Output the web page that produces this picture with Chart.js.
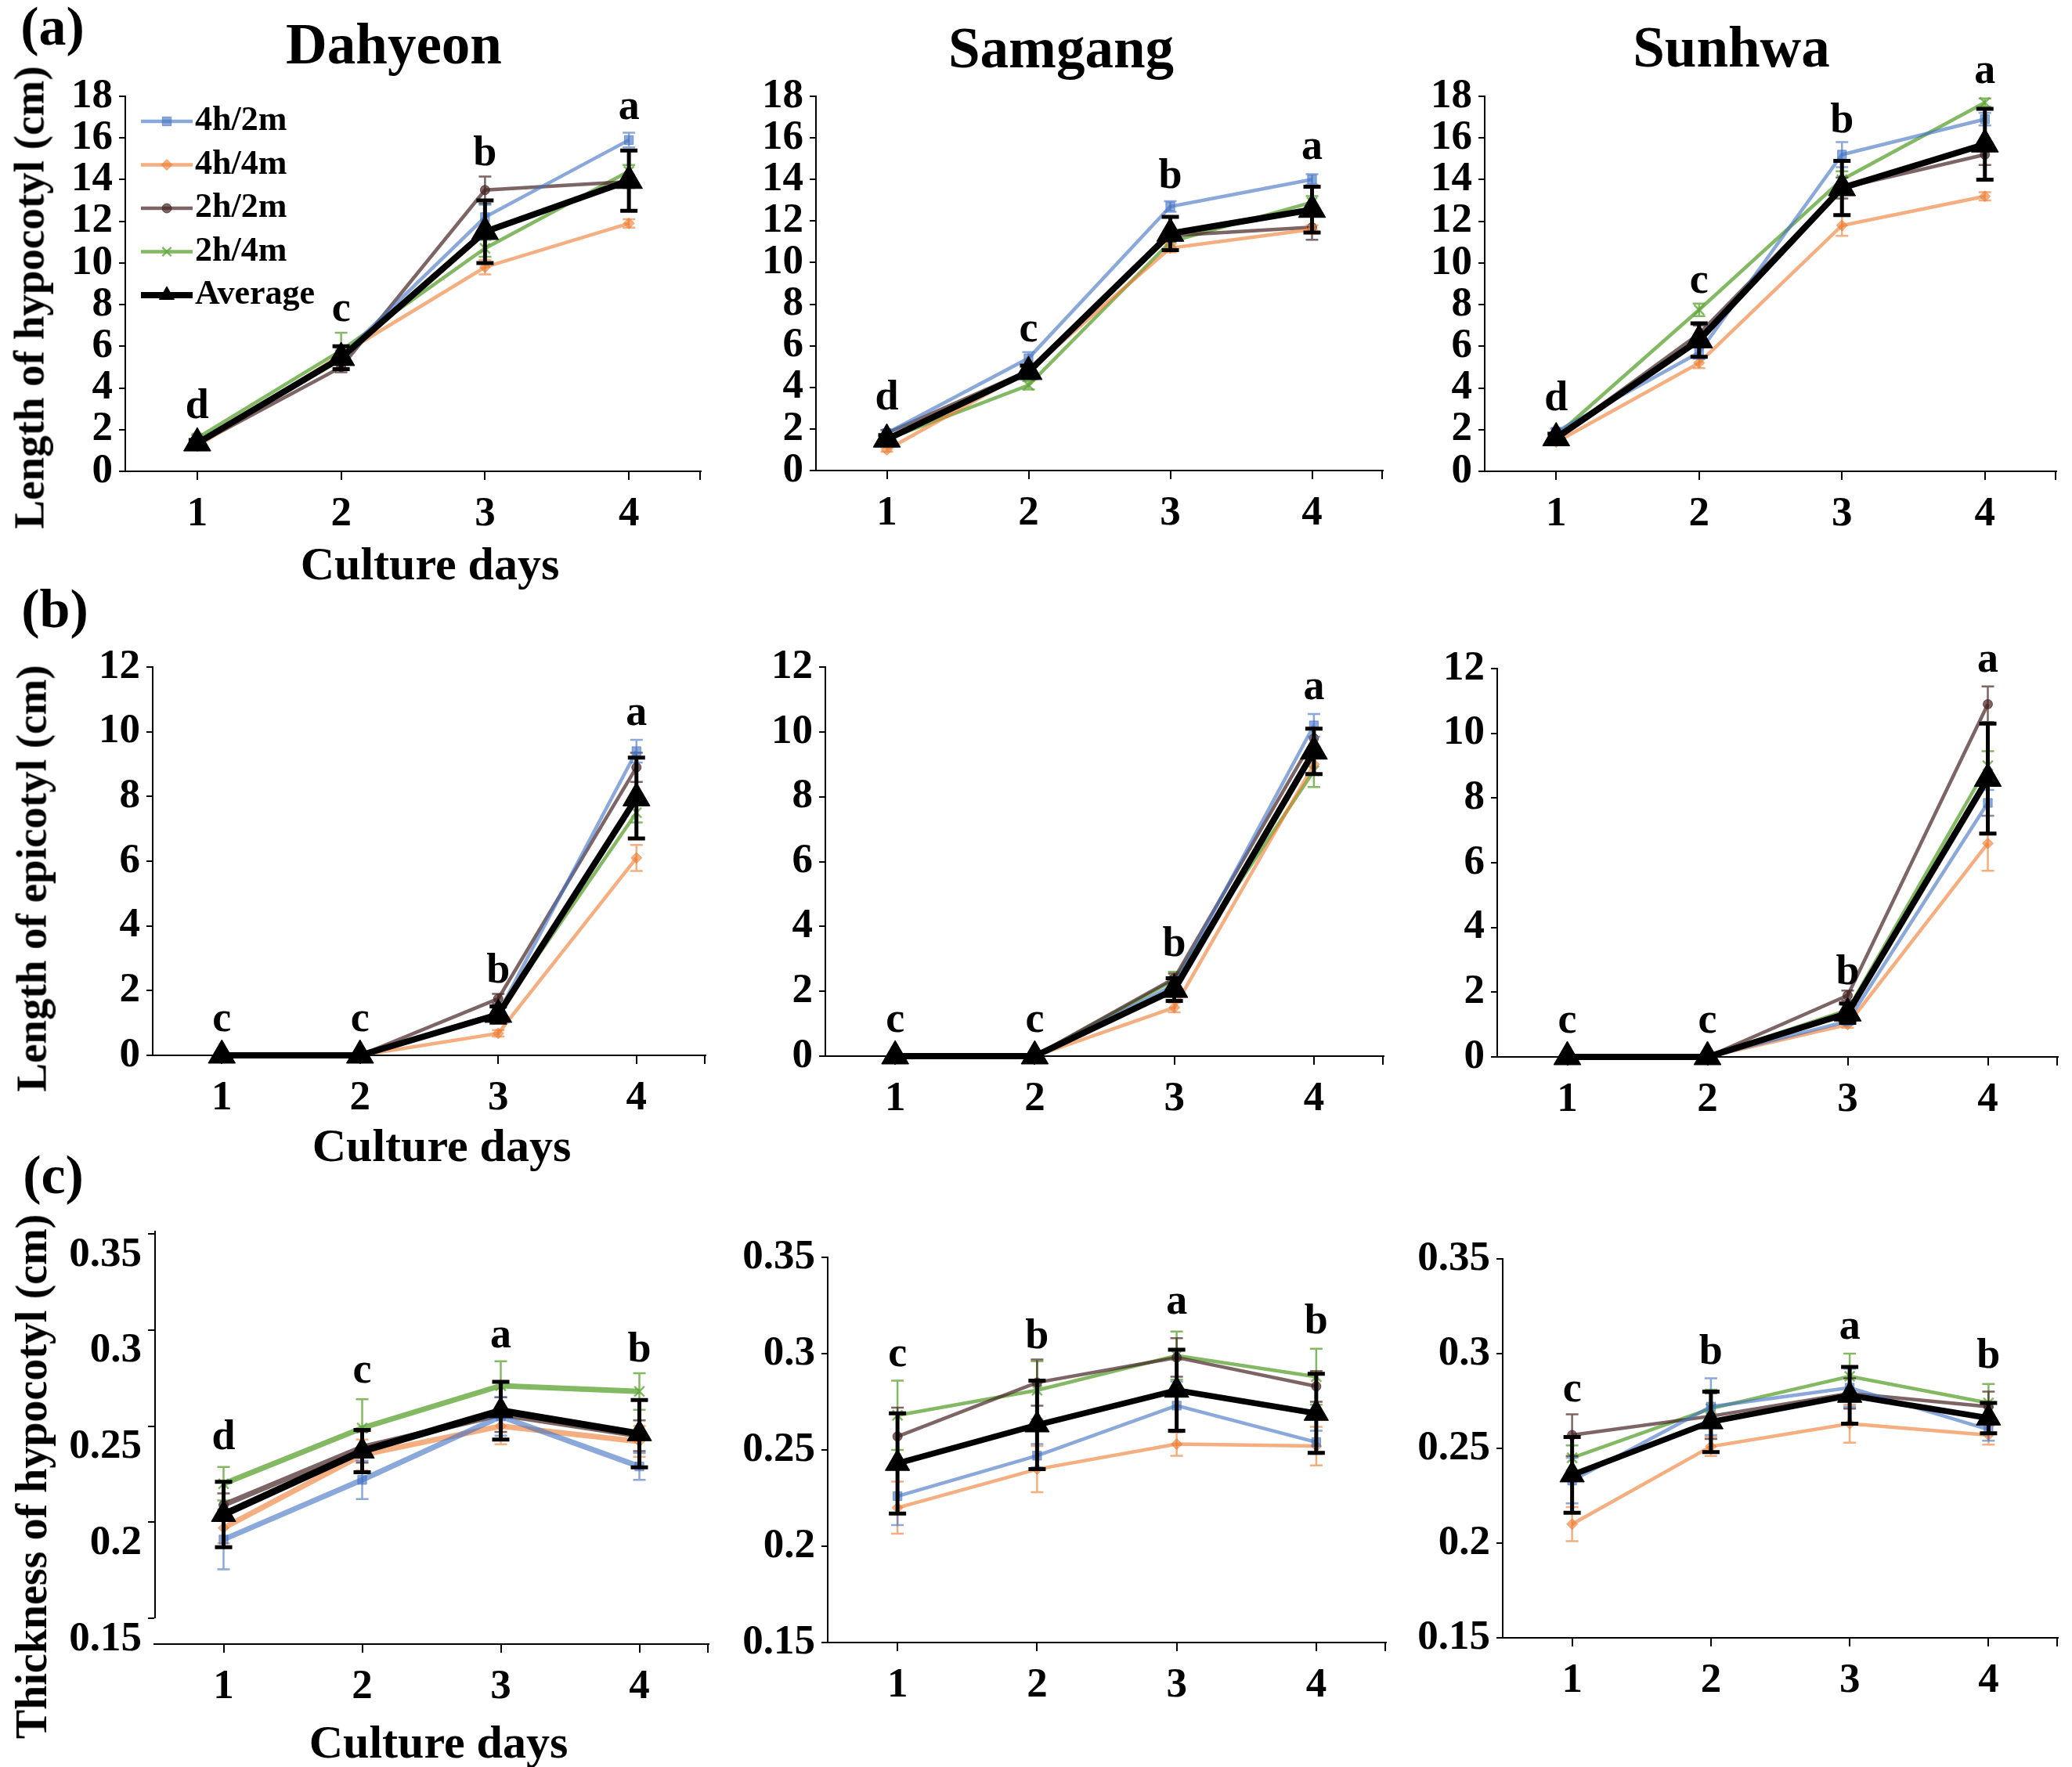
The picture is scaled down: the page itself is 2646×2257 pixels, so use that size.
<!DOCTYPE html>
<html>
<head>
<meta charset="utf-8">
<script src="https://cdn.jsdelivr.net/npm/chart.js@4.4.1/dist/chart.umd.min.js"></script>
<style>
html, body { margin: 0; padding: 0; background: #fff; overflow: hidden; }
body { width: 2646px; height: 2257px; position: relative; font-family: "Liberation Serif", serif; font-weight: bold; color: #000; }
canvas { position: absolute; }
.t { position: absolute; white-space: nowrap; }
</style>
</head>
<body>
<script>
const days = ['1', '2', '3', '4'];
const seriesNames = ['4h/2m', '4h/4m', '2h/2m', '2h/4m', 'Average'];
const seriesColors = ['rgba(68,114,196,0.62)', 'rgba(237,125,49,0.62)', 'rgba(70,35,35,0.7)', 'rgba(100,168,60,0.8)', '#000'];
const seriesMarkers = ['rect', 'rectRot', 'circle', 'crossRot', 'triangle'];
const markerRadius = [8, 7, 6, 9];

const lengthTicks = [0, 2, 4, 6, 8, 10, 12, 14, 16, 18];
const epicotylTicks = [0, 2, 4, 6, 8, 10, 12];
const thicknessTicks = [0.15, 0.2, 0.25, 0.3, 0.35];

// (a) length of hypocotyl, rows = 4h/2m, 4h/4m, 2h/2m, 2h/4m, Average
const hypLenDahyeon = [[1.4, 5.5, 12.2, 15.9], [1.2, 5.6, 9.8, 11.9], [1.3, 5.0, 13.5, 13.9], [1.6, 5.8, 10.7, 14.4], [1.35, 5.45, 11.5, 13.95]];
const hypLenDahyeonErr = [[0.15, 0.3, 0.6, 0.35], [0.1, 0.3, 0.35, 0.2], [0.1, 0.25, 0.65, 0.3], [0.15, 0.85, 0.4, 0.3], [0.15, 0.55, 1.5, 1.45]];
const hypLenSamgang = [[1.8, 5.4, 12.7, 14.0], [1.0, 4.8, 10.7, 11.6], [1.8, 4.8, 11.3, 11.7], [1.5, 4.1, 11.0, 12.9], [1.5, 4.75, 11.4, 12.55]];
const hypLenSamgangErr = [[0.15, 0.3, 0.25, 0.25], [0.1, 0.2, 0.2, 0.2], [0.15, 0.2, 0.3, 0.6], [0.1, 0.2, 0.3, 0.3], [0.2, 0.3, 0.8, 1.1]];
const hypLenSunhwa = [[1.9, 5.7, 15.2, 16.9], [1.4, 5.2, 11.8, 13.2], [1.6, 6.6, 13.6, 15.2], [1.7, 7.75, 14.0, 17.7], [1.6, 6.3, 13.6, 15.7]];
const hypLenSunhwaErr = [[0.15, 0.3, 0.6, 0.3], [0.1, 0.25, 0.5, 0.2], [0.1, 0.4, 0.5, 0.5], [0.1, 0.3, 0.4, 0.2], [0.2, 0.8, 1.3, 1.7]];

// (b) length of epicotyl
const epiLenDahyeon = [[0, 0, 1.3, 9.4], [0, 0, 0.68, 6.1], [0, 0, 1.75, 8.9], [0, 0, 1.3, 7.5], [0, 0, 1.26, 7.95]];
const epiLenDahyeonErr = [[0, 0, 0.1, 0.35], [0, 0, 0.1, 0.4], [0, 0, 0.15, 0.45], [0, 0, 0.1, 0.3], [0, 0, 0.25, 1.25]];
const epiLenSamgang = [[0, 0, 2.2, 10.2], [0, 0, 1.5, 9.0], [0, 0, 2.4, 9.8], [0, 0, 2.35, 8.8], [0, 0, 2.05, 9.4]];
const epiLenSamgangErr = [[0, 0, 0.15, 0.35], [0, 0, 0.15, 0.3], [0, 0, 0.15, 0.3], [0, 0, 0.25, 0.5], [0, 0, 0.35, 0.7]];
const epiLenSunhwa = [[0, 0, 1.1, 7.85], [0, 0, 1.0, 6.6], [0, 0, 1.9, 10.9], [0, 0, 1.45, 9.0], [0, 0, 1.35, 8.6]];
const epiLenSunhwaErr = [[0, 0, 0.1, 0.4], [0, 0, 0.1, 0.85], [0, 0, 0.15, 0.55], [0, 0, 0.15, 0.45], [0, 0, 0.3, 1.7]];

// (c) thickness of hypocotyl
const hypThkDahyeon = [[0.191, 0.222, 0.255, 0.229], [0.197, 0.235, 0.250, 0.242], [0.209, 0.239, 0.256, 0.245], [0.220, 0.249, 0.271, 0.268], [0.204, 0.237, 0.258, 0.246]];
const hypThkDahyeonErr = [[0.0155, 0.01, 0.01, 0.007], [0.008, 0.008, 0.0095, 0.008], [0.006, 0.008, 0.009, 0.008], [0.0087, 0.015, 0.0127, 0.0095], [0.017, 0.011, 0.015, 0.0175]];
const hypThkSamgang = [[0.226, 0.247, 0.273, 0.254], [0.220, 0.240, 0.253, 0.252], [0.257, 0.285, 0.298, 0.283], [0.268, 0.281, 0.299, 0.288], [0.243, 0.263, 0.281, 0.269]];
const hypThkSamgangErr = [[0.015, 0.006, 0.0125, 0.006], [0.0135, 0.012, 0.006, 0.01], [0.015, 0.012, 0.01, 0.008], [0.018, 0.015, 0.0125, 0.0145], [0.026, 0.023, 0.021, 0.0205]];
const hypThkSunhwa = [[0.233, 0.272, 0.282, 0.260], [0.210, 0.251, 0.263, 0.257], [0.257, 0.267, 0.279, 0.272], [0.245, 0.271, 0.288, 0.274], [0.236, 0.264, 0.278, 0.266]];
const hypThkSunhwaErr = [[0.012, 0.015, 0.01, 0.006], [0.009, 0.005, 0.01, 0.005], [0.011, 0.012, 0.008, 0.008], [0.0065, 0.01, 0.012, 0.01], [0.02, 0.016, 0.015, 0.008]];

// significance letters and the value they sit on
const lettersA = ['d', 'c', 'b', 'a'];
const lettersB = ['c', 'c', 'b', 'a'];
const lettersC1 = ['d', 'c', 'a', 'b'];
const lettersC23 = ['c', 'b', 'a', 'b'];
const letterYa1 = [2.55, 7.2, 14.7, 16.9];
const letterYa2 = [2.92, 6.2, 13.6, 15.0];
const letterYa3 = [2.94, 8.57, 16.28, 18.64];
const letterYb1 = [0.74, 0.74, 2.26, 10.2];
const letterYb2 = [0.76, 0.76, 3.09, 11.0];
const letterYb3 = [0.74, 0.74, 2.26, 11.9];
const letterYc1 = [0.238, 0.2725, 0.291, 0.2835];
const letterYc2 = [0.2936, 0.3027, 0.3208, 0.3107];
const letterYc3 = [0.275, 0.2948, 0.3077, 0.2924];

const FONT = 'Liberation Serif';

const errorBars = {
  id: 'errorBars',
  afterDatasetDraw(chart, args, opts) {
    if (!opts.errors) return;
    const i = args.index;
    const e = opts.errors[i];
    const ds = chart.data.datasets[i];
    const ctx = chart.ctx;
    const ys = chart.scales.y;
    const avg = i === 4;
    const cap = avg ? 11 : 8;
    ctx.save();
    ctx.strokeStyle = ds.borderColor;
    ctx.lineWidth = avg ? 5 : 2.5;
    args.meta.data.forEach((pt, j) => {
      if (!e[j]) return;
      const v = ds.data[j];
      const y1 = ys.getPixelForValue(v - e[j]);
      const y2 = ys.getPixelForValue(v + e[j]);
      ctx.beginPath();
      ctx.moveTo(pt.x, y1); ctx.lineTo(pt.x, y2);
      ctx.moveTo(pt.x - cap, y1); ctx.lineTo(pt.x + cap, y1);
      ctx.moveTo(pt.x - cap, y2); ctx.lineTo(pt.x + cap, y2);
      ctx.stroke();
    });
    ctx.restore();
  }
};

const letterMarks = {
  id: 'letterMarks',
  afterDatasetsDraw(chart, args, opts) {
    if (!opts.letters) return;
    const ctx = chart.ctx;
    ctx.save();
    ctx.font = 'bold 54px "' + FONT + '"';
    ctx.fillStyle = '#000';
    ctx.textAlign = 'center';
    ctx.textBaseline = 'alphabetic';
    opts.letters.forEach((s, j) => {
      ctx.fillText(s, chart.scales.x.getPixelForValue(j), chart.scales.y.getPixelForValue(opts.heights[j]));
    });
    ctx.restore();
  }
};

const insideLegend = {
  id: 'insideLegend',
  afterDraw(chart, args, opts) {
    if (!opts.show) return;
    const ctx = chart.ctx, a = chart.chartArea;
    const legendRadius = [8, 7, 6, 8, 11];
    ctx.save();
    ctx.font = 'bold 44px "' + FONT + '"';
    ctx.textBaseline = 'middle';
    ctx.textAlign = 'left';
    chart.data.datasets.forEach((ds, i) => {
      const y = a.top + opts.top + i * opts.gap;
      const x0 = a.left + opts.left, x1 = x0 + opts.len;
      ctx.strokeStyle = ds.borderColor;
      ctx.fillStyle = ds.backgroundColor;
      ctx.lineWidth = i === 4 ? 8 : 4.5;
      ctx.beginPath(); ctx.moveTo(x0, y); ctx.lineTo(x1, y); ctx.stroke();
      if (Chart.helpers && Chart.helpers.drawPoint) {
        ctx.lineWidth = i === 3 ? 2.5 : 1;
        Chart.helpers.drawPoint(ctx, {pointStyle: ds.pointStyle, radius: legendRadius[i], rotation: 0, borderWidth: ctx.lineWidth}, (x0 + x1) / 2, y);
      }
      ctx.fillStyle = '#000';
      ctx.fillText(ds.label, x1 + 3, y);
    });
    ctx.restore();
  }
};

const axisExtras = {
  id: 'axisExtras',
  afterDraw(chart, args, opts) {
    const ctx = chart.ctx, a = chart.chartArea;
    ctx.save();
    ctx.strokeStyle = '#000';
    ctx.lineWidth = 2;
    ctx.beginPath();
    ctx.moveTo(a.right - 1, a.bottom);
    ctx.lineTo(a.right - 1, a.bottom + 11);
    if (opts.yFrom !== undefined) {
      const ys = chart.scales.y;
      ctx.moveTo(a.left + 1, ys.getPixelForValue(opts.yFrom));
      ctx.lineTo(a.left + 1, ys.getPixelForValue(opts.yTo));
    }
    ctx.stroke();
    ctx.restore();
  }
};

Chart.register(errorBars, letterMarks, insideLegend, axisExtras);

function makePanel(p) {
  const W = p.R - p.L + 158, H = p.B - p.T + 180;
  const cv = document.createElement('canvas');
  cv.width = W; cv.height = H;
  cv.style.left = (p.L - 150) + 'px';
  cv.style.top = (p.T - 100) + 'px';
  cv.style.width = W + 'px';
  cv.style.height = H + 'px';
  document.body.appendChild(cv);

  const datasets = p.values.map((vals, i) => ({
    label: seriesNames[i],
    data: vals,
    borderColor: seriesColors[i],
    backgroundColor: seriesColors[i],
    borderWidth: i === 4 ? p.avgWidth : p.lineWidth,
    pointStyle: seriesMarkers[i],
    pointRadius: i === 4 ? p.triRadius : markerRadius[i],
    pointBorderWidth: i === 3 ? 2.5 : 1,
    tension: 0,
    clip: false,
    order: i === 4 ? 0 : i + 1
  }));

  const tickFont = {family: FONT, weight: 'bold', size: 53};

  new Chart(cv, {
    type: 'line',
    data: {labels: days, datasets: datasets},
    options: {
      responsive: false,
      animation: false,
      devicePixelRatio: 1,
      events: [],
      layout: {padding: {left: 0, top: 100, right: 8, bottom: 0}},
      plugins: {
        legend: {display: false},
        tooltip: {enabled: false},
        errorBars: {errors: p.errors},
        letterMarks: {letters: p.letters, heights: p.letterY},
        insideLegend: {show: !!p.legend, top: 32, left: 20, len: 66, gap: 55.5},
        axisExtras: {yFrom: p.yFrom, yTo: p.max}
      },
      scales: {
        x: {
          type: 'category',
          offset: true,
          grid: {display: true, drawOnChartArea: false, drawTicks: true, tickLength: 11, color: '#000', lineWidth: 2, offset: false},
          border: {display: true, color: '#000', width: 2},
          ticks: {color: '#000', font: tickFont, padding: 13, maxRotation: 0, autoSkip: false},
          afterFit(s) { s.height = 80; }
        },
        y: {
          type: 'linear',
          min: p.min,
          max: p.max,
          afterBuildTicks(s) { s.ticks = p.ticks.map(v => ({value: v})); },
          grid: {display: true, drawOnChartArea: false, drawTicks: true, tickLength: 8, color: '#000', lineWidth: 2},
          border: {display: p.yFrom === undefined, color: '#000', width: 2},
          ticks: {color: '#000', font: tickFont, padding: 8, autoSkip: false, labelOffset: p.labelOffset || 0, callback: v => String(+v.toFixed(2))},
          afterFit(s) { s.width = 150; }
        }
      }
    }
  });
}

const rowAB = {lineWidth: 4.5, avgWidth: 8, triRadius: 20};
const rowC = {lineWidth: 4.5, avgWidth: 7.5, triRadius: 18};

const panels = [
  Object.assign({L: 160, T: 123, R: 908, B: 602, min: 0, max: 18, ticks: lengthTicks, values: hypLenDahyeon, errors: hypLenDahyeonErr, letters: lettersA, letterY: letterYa1, legend: true}, rowAB),
  Object.assign({L: 1042, T: 123, R: 1779, B: 601, min: 0, max: 18, ticks: lengthTicks, values: hypLenSamgang, errors: hypLenSamgangErr, letters: lettersA, letterY: letterYa2}, rowAB),
  Object.assign({L: 1896, T: 123, R: 2639, B: 602, min: 0, max: 18, ticks: lengthTicks, values: hypLenSunhwa, errors: hypLenSunhwaErr, letters: lettersA, letterY: letterYa3}, rowAB),
  Object.assign({L: 195, T: 852, R: 914, B: 1348, min: 0, max: 12, ticks: epicotylTicks, values: epiLenDahyeon, errors: epiLenDahyeonErr, letters: lettersB, letterY: letterYb1}, rowAB),
  Object.assign({L: 1054, T: 852, R: 1780, B: 1349, min: 0, max: 12, ticks: epicotylTicks, values: epiLenSamgang, errors: epiLenSamgangErr, letters: lettersB, letterY: letterYb2}, rowAB),
  Object.assign({L: 1912, T: 854, R: 2641, B: 1350, min: 0, max: 12, ticks: epicotylTicks, values: epiLenSunhwa, errors: epiLenSunhwaErr, letters: lettersB, letterY: letterYb3}, rowAB),
  Object.assign({L: 197, T: 1572, R: 916, B: 2100, min: 0.1366, max: 0.3516, ticks: thicknessTicks, values: hypThkDahyeon, errors: hypThkDahyeonErr, letters: lettersC1, letterY: letterYc1, yFrom: 0.15, labelOffset: 27}, rowC, {lineWidth: 7, avgWidth: 9}),
  Object.assign({L: 1057, T: 1606, R: 1781, B: 2098, min: 0.15, max: 0.35, ticks: thicknessTicks, values: hypThkSamgang, errors: hypThkSamgangErr, letters: lettersC23, letterY: letterYc2}, rowC),
  Object.assign({L: 1919, T: 1608, R: 2639, B: 2092, min: 0.15, max: 0.35, ticks: thicknessTicks, values: hypThkSunhwa, errors: hypThkSunhwaErr, letters: lettersC23, letterY: letterYc3}, rowC)
];
panels.forEach(makePanel);

function addText(str, x, base, size, rotate) {
  const d = document.createElement('div');
  d.className = 't';
  d.textContent = str;
  d.style.fontSize = size + 'px';
  d.style.lineHeight = size + 'px';
  if (rotate) {
    d.style.left = (x - 0.3375 * size) + 'px';
    d.style.top = base + 'px';
    d.style.transform = 'translate(-50%, -50%) rotate(-90deg)';
  } else {
    d.style.left = x + 'px';
    d.style.top = (base - 0.8375 * size) + 'px';
    d.style.transform = 'translateX(-50%)';
  }
  document.body.appendChild(d);
}

addText('(a)', 67, 58, 70);
addText('(b)', 70, 802, 70);
addText('(c)', 68, 1525, 70);
addText('Dahyeon', 503, 81, 73);
addText('Samgang', 1355, 86, 73);
addText('Sunhwa', 2211, 85, 73);
addText('Culture days', 549, 740, 60);
addText('Culture days', 564, 1483, 60);
addText('Culture days', 560, 2245, 60);
addText('Length of hypocotyl (cm)', 56, 380, 55, true);
addText('Length of epicotyl (cm)', 59, 1122, 55, true);
addText('Thickness of hypocotyl (cm)', 59, 1886, 56, true);
</script>
</body>
</html>
